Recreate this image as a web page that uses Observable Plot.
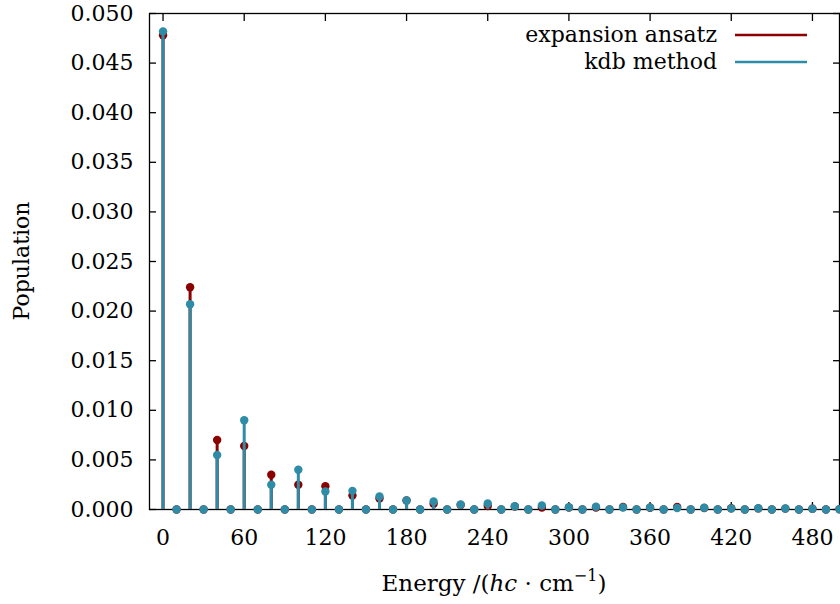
<!DOCTYPE html>
<html>
<head>
<meta charset="utf-8">
<script src="https://cdn.jsdelivr.net/npm/d3@7"></script>
<script src="https://cdn.jsdelivr.net/npm/@observablehq/plot@0.6"></script>
<style>
  html, body { margin: 0; padding: 0; background: #fff; }
  #chart svg { display: block; }
</style>
</head>
<body>
<div id="chart"></div>
<script>
// Energy levels (hc·cm^-1)
const energy = [0, 10, 20, 30, 40, 50, 60, 70, 80, 90, 100, 110, 120, 130, 140, 150, 160, 170, 180, 190,
  200, 210, 220, 230, 240, 250, 260, 270, 280, 290, 300, 310, 320, 330, 340, 350, 360, 370, 380, 390,
  400, 410, 420, 430, 440, 450, 460, 470, 480, 490, 500];
// Series: expansion ansatz
const expansionAnsatz = [0.0478, 0, 0.0224, 0, 0.0070, 0, 0.0064, 0, 0.0035, 0, 0.0025, 0, 0.00235, 0, 0.00141, 0,
  0.00111, 0, 0.00090, 0, 0.00057, 0, 0.00045, 0, 0.00035, 0, 0.00030, 0, 0.00020, 0, 0.00020, 0,
  0.00020, 0, 0.00025, 0, 0.00018, 0, 0.00025, 0, 0.00015, 0, 0.00013, 0, 0.00011, 0, 0.00009, 0,
  0.00007, 0, 0.00003];
// Series: kdb method
const kdbMethod = [0.0482, 0, 0.0207, 0, 0.0055, 0, 0.0090, 0, 0.0025, 0, 0.0040, 0, 0.00181, 0, 0.00188, 0,
  0.00131, 0, 0.00091, 0, 0.00080, 0, 0.00050, 0, 0.00060, 0, 0.00033, 0, 0.00040, 0, 0.00023, 0,
  0.00027, 0, 0.00020, 0, 0.00020, 0, 0.00015, 0, 0.00017, 0, 0.00010, 0, 0.00013, 0, 0.00010, 0,
  0.00007, 0, 0.00003];
const xTicks = [0, 60, 120, 180, 240, 300, 360, 420, 480];
const yTicks = [0, 0.005, 0.010, 0.015, 0.020, 0.025, 0.030, 0.035, 0.040, 0.045, 0.050];
const seriesNames = ["expansion ansatz", "kdb method"];

const RED = "#8b0000";
const BLUE = "#2e8ca6";
const FONT = "DejaVu Serif";

const expData = energy.map((e, i) => ({e, v: expansionAnsatz[i]}));
const kdbData = energy.map((e, i) => ({e, v: kdbMethod[i]}));

const W = 840, H = 604;
const plot = Plot.plot({
  width: W,
  height: H,
  marginLeft: 149,
  marginRight: 1,
  marginTop: 13,
  marginBottom: 95,
  style: {fontFamily: FONT, fontSize: "22px", color: "#000", background: "#fff", overflow: "visible"},
  x: {domain: [-10, 500], label: null},
  y: {domain: [0, 0.05], label: null},
  marks: [
    Plot.frame({stroke: "#000", strokeWidth: 1.3}),
    // inward tick marks on all four sides
    Plot.axisX({ticks: xTicks, anchor: "bottom", tickSize: 7, dy: -7, text: null, label: null, strokeWidth: 1.3}),
    Plot.axisX({ticks: xTicks, anchor: "top", tickSize: 7, dy: 7, text: null, label: null, strokeWidth: 1.3}),
    Plot.axisY({ticks: yTicks, anchor: "left", tickSize: 7, dx: 7, text: null, label: null, strokeWidth: 1.3}),
    Plot.axisY({ticks: yTicks, anchor: "right", tickSize: 7, dx: -7, text: null, label: null, strokeWidth: 1.3}),
    // tick labels
    Plot.axisX({ticks: xTicks, anchor: "bottom", tickSize: 0, tickPadding: 20, label: null, tickFormat: d3.format("d")}),
    Plot.axisY({ticks: yTicks, anchor: "left", tickSize: 0, tickPadding: 16, label: null, tickFormat: d3.format(".3f")}),
    // data: stems and points
    Plot.ruleX(expData, {x: "e", y1: 0, y2: "v", stroke: RED, strokeWidth: 3}),
    Plot.dot(expData, {x: "e", y: "v", r: 4.2, fill: RED, stroke: "none"}),
    Plot.ruleX(kdbData, {x: "e", y1: 0, y2: "v", stroke: BLUE, strokeWidth: 3}),
    Plot.dot(kdbData, {x: "e", y: "v", r: 4.2, fill: BLUE, stroke: "none"})
  ]
});

const svg = d3.select(plot);
// x-axis title with italic hc and superscript
const xt = svg.append("text")
  .attr("x", 494).attr("y", 591)
  .attr("text-anchor", "middle")
  .attr("font-family", FONT).attr("font-size", 23).attr("fill", "#000");
xt.append("tspan").text("Energy /(");
xt.append("tspan").attr("font-style", "italic").text("hc");
xt.append("tspan").text(" · cm");
xt.append("tspan").attr("font-size", 16).attr("dy", -10).text("−1");
xt.append("tspan").attr("dy", 10).text(")");

// y-axis title
svg.append("text")
  .attr("transform", "translate(29,261) rotate(-90)")
  .attr("text-anchor", "middle")
  .attr("font-family", FONT).attr("font-size", 22).attr("fill", "#000")
  .text("Population");

// legend
const legendColors = [RED, BLUE];
const legendY = [35, 62];
seriesNames.forEach((name, i) => {
  svg.append("text")
    .attr("x", 717).attr("y", legendY[i] + 7)
    .attr("text-anchor", "end")
    .attr("font-family", FONT).attr("font-size", 22).attr("fill", "#000")
    .text(name);
  svg.append("line")
    .attr("x1", 735).attr("x2", 807)
    .attr("y1", legendY[i]).attr("y2", legendY[i])
    .attr("stroke", legendColors[i]).attr("stroke-width", 2.5);
});

document.getElementById("chart").appendChild(plot);
</script>
</body>
</html>
